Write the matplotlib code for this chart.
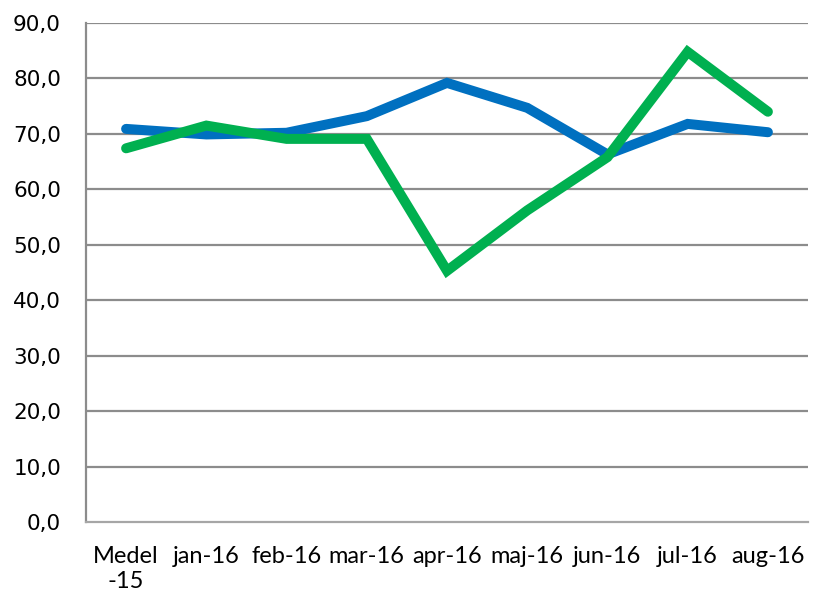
import matplotlib
matplotlib.use("Agg")
import matplotlib.pyplot as plt

categories = ["Medel\n-15", "jan-16", "feb-16", "mar-16", "apr-16", "maj-16", "jun-16", "jul-16", "aug-16"]
series_blue = [70.9, 69.9, 70.2, 73.2, 79.2, 74.7, 66.3, 71.8, 70.3]
series_green = [67.4, 71.5, 69.1, 69.1, 45.3, 56.2, 65.8, 84.8, 74.0]
yticks = [0, 10, 20, 30, 40, 50, 60, 70, 80, 90]

fig = plt.figure(figsize=(8.17, 6.06), dpi=100)
ax = fig.add_axes([86/817, 84/606, (808-86)/817, (522-23)/606])

x = list(range(len(categories)))
ax.plot(x, series_blue, color="#0070C0", lw=7.2, solid_capstyle="round", solid_joinstyle="miter", zorder=3)
ax.plot(x, series_green, color="#00B050", lw=7.2, solid_capstyle="round", solid_joinstyle="miter", zorder=4)

ax.set_xlim(-0.5, len(categories) - 0.5)
ax.set_ylim(0, 90)
ax.set_yticks(yticks)
ax.set_yticklabels([f"{v:.1f}".replace(".", ",") for v in yticks], fontsize=15.5, family="DejaVu Sans")
ax.set_xticks(x)
ax.set_xticklabels(categories, fontsize=17, family="Lato", linespacing=1.25)
ax.tick_params(axis="both", length=0, colors="#000000")
ax.tick_params(axis="y", pad=18)
ax.tick_params(axis="x", pad=17)
for yv in yticks[1:]:
    ax.axhline(yv, color="#8c8c8c", lw=1.6, zorder=1)
for s in ["top", "right"]:
    ax.spines[s].set_visible(False)
ax.spines["left"].set_color("#8c8c8c")
ax.spines["left"].set_linewidth(1.6)
ax.spines["bottom"].set_color("#a6a6a6")
ax.spines["bottom"].set_linewidth(1.6)

fig.savefig("out.png", dpi=100)
